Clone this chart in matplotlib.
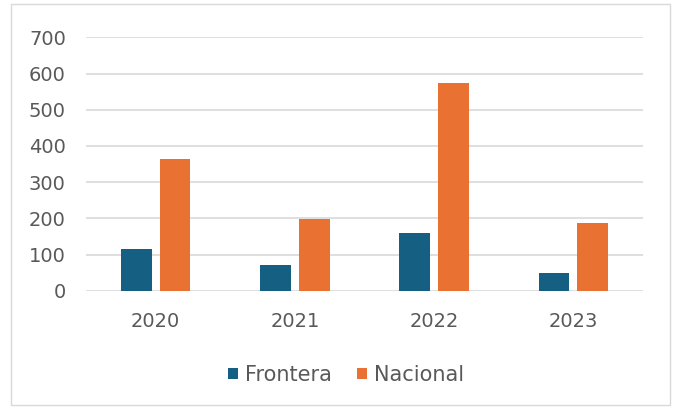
import matplotlib
matplotlib.use("Agg")
import matplotlib.pyplot as plt
import numpy as np
from matplotlib.patches import Rectangle

years = ["2020", "2021", "2022", "2023"]
frontera = [116, 72, 160, 50]
nacional = [365, 198, 575, 188]
series_names = ["Frontera", "Nacional"]
colors = ["#156082", "#E97132"]

plt.rcParams['font.family'] = ['DejaVu Sans']

fig = plt.figure(figsize=(6.75, 4.09), dpi=100)
fig.patches.append(Rectangle((11/675, 4/409), (670-11)/675, (405-4)/409,
                             transform=fig.transFigure, fill=False,
                             edgecolor="#D9D9D9", linewidth=1.0))
ax = fig.add_axes([86/675, 1-290.7/409, (643-86)/675, (290.7-37.3)/409])

x = np.arange(len(years))
w = 0.22
off = 0.139
ax.bar(x - off, frontera, width=w, color=colors[0], label=series_names[0], zorder=3)
ax.bar(x + off, nacional, width=w, color=colors[1], label=series_names[1], zorder=3)

ax.set_xlim(-0.5, 3.5)
ax.set_ylim(0, 700)
ax.set_yticks(range(0, 701, 100))
ax.set_xticks(x)
ax.set_xticklabels(years)
ax.grid(axis='y', color="#D9D9D9", linewidth=1.2, zorder=0)
for s in ax.spines.values():
    s.set_visible(False)
ax.tick_params(axis='both', length=0, labelsize=14, labelcolor="#595959")
ax.tick_params(axis='y', pad=14.5)
ax.tick_params(axis='x', pad=15)

leg = fig.legend(loc='center', bbox_to_anchor=(346/675, 1-375/409), ncol=2, frameon=False,
                 fontsize=15, handlelength=0.48, handleheight=0.48, handletextpad=0.33,
                 columnspacing=1.2)
for t in leg.get_texts():
    t.set_color("#595959")

fig.savefig("out.png", dpi=100)
